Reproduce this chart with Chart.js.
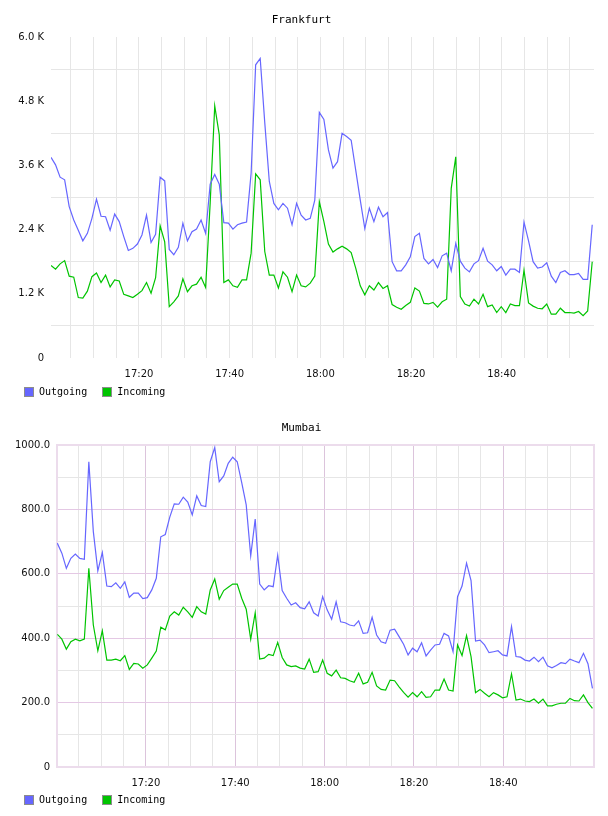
<!DOCTYPE html>
<html>
<head>
<meta charset="utf-8">
<script src="https://cdn.jsdelivr.net/npm/chart.js@4/dist/chart.umd.min.js"></script>
<style>
  body { margin: 0; background: #fff; }
  .box { position: relative; width: 608px; height: 408px; }
  .legend { position: absolute; left: 24px; top: 386px; display: flex; font: 10px 'DejaVu Sans Mono'; line-height: 12px; color: #000; }
  .legend .item { display: flex; align-items: center; margin-right: 15px; }
  .legend .swatch { width: 10px; height: 10px; box-sizing: border-box; border: 1px solid #8c8c8c; margin-right: 5px; }
</style>
</head>
<body>
<div class="box"><canvas id="frankfurtChart"></canvas><div class="legend" id="frankfurtLegend"></div></div>
<div class="box"><canvas id="mumbaiChart"></canvas><div class="legend" id="mumbaiLegend"></div></div>
<script>
// x axis: minutes after 17:00
const gridMinutes = [5, 10, 15, 20, 25, 30, 35, 40, 45, 50, 55, 60, 65, 70, 75, 80, 85, 90, 95, 100, 105, 110, 115];
const labelMinutes = [20, 40, 60, 80, 100];

// y ticks
const frankfurtTicks = [0, 0.6, 1.2, 1.8, 2.4, 3.0, 3.6, 4.2, 4.8, 5.4, 6.0]; // K
const mumbaiTicks = [0, 100, 200, 300, 400, 500, 600, 700, 800, 900, 1000];

// one sample a minute
const frankfurtSampling = { first: 0.6, step: 1.003, min: 0.6, max: 120.35 };
const mumbaiSampling = { first: 0.18, step: 1.0065, min: 0.1, max: 120.3 };

// Frankfurt, K
const frankfurtOutgoing = [
  3.75, 3.61, 3.38, 3.33, 2.83, 2.58, 2.39, 2.19, 2.33, 2.61,
  2.97, 2.65, 2.64, 2.39, 2.69, 2.55, 2.27, 2.01, 2.05, 2.13,
  2.30, 2.67, 2.16, 2.31, 3.38, 3.31, 2.03, 1.93, 2.07, 2.52,
  2.19, 2.36, 2.41, 2.58, 2.33, 3.25, 3.43, 3.25, 2.53, 2.52,
  2.41, 2.49, 2.52, 2.54, 3.45, 5.48, 5.60, 4.40, 3.30, 2.89,
  2.77, 2.89, 2.80, 2.49, 2.89, 2.67, 2.58, 2.61, 2.95, 4.59,
  4.46, 3.89, 3.55, 3.67, 4.20, 4.14, 4.07, 3.51, 2.95, 2.42,
  2.80, 2.55, 2.82, 2.64, 2.72, 1.80, 1.63, 1.63, 1.74, 1.89,
  2.27, 2.33, 1.86, 1.76, 1.84, 1.69, 1.91, 1.96, 1.63, 2.14,
  1.81, 1.68, 1.61, 1.76, 1.82, 2.05, 1.81, 1.74, 1.63, 1.71,
  1.55, 1.66, 1.66, 1.60, 2.54, 2.19, 1.80, 1.68, 1.70, 1.78,
  1.53, 1.41, 1.60, 1.63, 1.56, 1.56, 1.58, 1.47, 1.47, 2.49
];
const frankfurtIncoming = [
  1.73, 1.66, 1.76, 1.82, 1.53, 1.51, 1.13, 1.12, 1.25, 1.52,
  1.59, 1.41, 1.55, 1.33, 1.46, 1.44, 1.19, 1.16, 1.13, 1.19,
  1.26, 1.41, 1.21, 1.50, 2.47, 2.17, 0.96, 1.05, 1.16, 1.48,
  1.24, 1.35, 1.38, 1.51, 1.32, 2.90, 4.71, 4.17, 1.41, 1.46,
  1.35, 1.32, 1.46, 1.46, 1.96, 3.44, 3.33, 1.99, 1.55, 1.55,
  1.31, 1.61, 1.51, 1.24, 1.55, 1.35, 1.33, 1.40, 1.53, 2.92,
  2.55, 2.13, 1.98, 2.04, 2.09, 2.04, 1.97, 1.68, 1.35, 1.18,
  1.35, 1.27, 1.41, 1.30, 1.35, 1.00, 0.95, 0.91, 0.98, 1.04,
  1.31, 1.25, 1.02, 1.01, 1.04, 0.95, 1.05, 1.10, 3.17, 3.76,
  1.15, 1.01, 0.97, 1.10, 1.01, 1.19, 0.96, 0.99, 0.85, 0.96,
  0.85, 1.01, 0.98, 0.98, 1.64, 1.03, 0.97, 0.93, 0.92, 1.01,
  0.82, 0.82, 0.93, 0.85, 0.85, 0.84, 0.87, 0.79, 0.88, 1.80
];

// Mumbai
const mumbaiOutgoing = [
  695, 664, 617, 648, 661, 648, 645, 948, 731, 609,
  666, 562, 560, 572, 555, 575, 527, 540, 540, 523,
  526, 550, 586, 715, 722, 776, 817, 816, 838, 823,
  783, 842, 812, 809, 948, 992, 886, 904, 943, 962,
  948, 883, 814, 656, 770, 568, 550, 563, 560, 658,
  548, 524, 503, 510, 495, 491, 513, 479, 469, 529,
  488, 459, 513, 451, 448, 441, 438, 454, 415, 417,
  465, 410, 389, 384, 425, 428, 405, 381, 348, 369,
  358, 386, 345, 363, 379, 381, 415, 407, 358, 529,
  562, 633, 579, 391, 394, 379, 355, 358, 361, 348,
  345, 436, 343, 341, 332, 329, 341, 327, 341, 314,
  308, 315, 324, 321, 335, 329, 324, 353, 321, 244
];
const mumbaiIncoming = [
  412, 397, 366, 389, 397, 392, 397, 617, 441, 361,
  423, 332, 332, 335, 330, 346, 303, 322, 320, 307,
  317, 338, 360, 434, 426, 469, 482, 472, 496, 482,
  465, 498, 482, 475, 550, 584, 521, 548, 558, 568,
  568, 524, 490, 397, 479, 335, 338, 350, 346, 387,
  340, 317, 312, 314, 307, 304, 335, 294, 296, 332,
  291, 283, 301, 277, 275, 268, 263, 291, 258, 263,
  294, 252, 241, 239, 270, 268, 249, 232, 217, 231,
  218, 234, 216, 218, 239, 239, 273, 239, 236, 379,
  346, 408, 343, 231, 241, 229, 218, 231, 224, 215,
  218, 289, 208, 211, 205, 203, 211, 198, 211, 190,
  190, 195, 198, 198, 213, 206, 205, 224, 200, 182
];

const OUT_COLOR = '#6666ff';
const IN_COLOR = '#00c400';
const GRID_GREY = '#e6e6e6';
const GRID_PINK = '#e4c8e4';
const TEXT_FONT = { family: 'DejaVu Sans', size: 10 };
const MONO = 'DejaVu Sans Mono';

function timePoints(values, s) {
    return values.map((v, i) => ({ x: s.first + i * s.step, y: v }));
}

function minuteLabel(m) {
    const h = 17 + Math.floor(m / 60);
    return h + ':' + String(m % 60).padStart(2, '0');
}

// recuadro del gráfico de Mumbai
const framePlugin = {
    id: 'frame',
    beforeDatasetsDraw(chart) {
        const { ctx, chartArea: a } = chart;
        ctx.save();
        ctx.strokeStyle = '#ecdcec';
        ctx.lineWidth = 2;
        ctx.strokeRect(a.left, a.top, a.right - a.left, a.bottom - a.top);
        ctx.restore();
    }
};

// leyenda en HTML debajo del eje x
function fillLegend(chart, legendId) {
    const el = document.getElementById(legendId);
    chart.data.datasets.forEach(ds => {
        const item = document.createElement('span');
        item.className = 'item';
        const sw = document.createElement('span');
        sw.className = 'swatch';
        sw.style.background = ds.borderColor;
        item.appendChild(sw);
        item.appendChild(document.createTextNode(ds.label));
        el.appendChild(item);
    });
}

function makeChart(id, cfg) {
    const ctx = document.getElementById(id);
    return new Chart(ctx, {
        type: 'line',
        data: {
            datasets: [
                {
                    label: 'Outgoing',
                    data: timePoints(cfg.outgoing, cfg.sampling),
                    borderColor: OUT_COLOR,
                    backgroundColor: OUT_COLOR,
                    borderWidth: 1.2,
                    pointRadius: 0,
                    tension: 0
                },
                {
                    label: 'Incoming',
                    data: timePoints(cfg.incoming, cfg.sampling),
                    borderColor: IN_COLOR,
                    backgroundColor: IN_COLOR,
                    borderWidth: 1.2,
                    pointRadius: 0,
                    tension: 0
                }
            ]
        },
        plugins: cfg.framed ? [framePlugin] : [],
        options: {
            responsive: true,
            maintainAspectRatio: false,
            animation: false,
            layout: { padding: { left: 9, right: 14, top: 0, bottom: cfg.bottomPad } },
            plugins: {
                tooltip: { enabled: false },
                legend: { display: false },
                title: {
                    display: true,
                    text: cfg.title,
                    color: '#000',
                    font: { family: MONO, size: 11, weight: 'normal' },
                    padding: { top: 14, bottom: 9.8 }
                }
            },
            scales: {
                x: {
                    type: 'linear',
                    min: cfg.sampling.min,
                    max: cfg.sampling.max,
                    afterBuildTicks: s => { s.ticks = gridMinutes.map(v => ({ value: v })); },
                    afterFit: s => { s.height = 24; },
                    border: { display: false },
                    grid: {
                        drawTicks: false,
                        color: c => (cfg.framed && labelMinutes.includes(c.tick.value)) ? '#dcc4dc' : GRID_GREY
                    },
                    ticks: {
                        autoSkip: false,
                        maxRotation: 0,
                        padding: 10,
                        color: '#111',
                        font: TEXT_FONT,
                        callback: v => labelMinutes.includes(v) ? minuteLabel(v) : ''
                    }
                },
                y: {
                    min: cfg.yTicks[0],
                    max: cfg.yTicks[cfg.yTicks.length - 1],
                    afterBuildTicks: s => { s.ticks = cfg.yTicks.map(v => ({ value: v })); },
                    afterFit: s => { s.width = cfg.yWidth; },
                    border: { display: false },
                    grid: { drawTicks: false, color: cfg.yGrid },
                    ticks: {
                        autoSkip: false,
                        padding: 7,
                        color: '#111',
                        font: TEXT_FONT,
                        callback: cfg.yLabel
                    }
                }
            }
        }
    });
}

const frankfurt = makeChart('frankfurtChart', {
    title: 'Frankfurt',
    outgoing: frankfurtOutgoing,
    incoming: frankfurtIncoming,
    sampling: frankfurtSampling,
    yTicks: frankfurtTicks,
    yWidth: 42,
    bottomPad: 26,
    framed: false,
    yGrid: c => (Math.round(c.tick.value / 0.6) % 2) ? GRID_GREY : 'rgba(0,0,0,0)',
    yLabel: v => {
        if (Math.round(v / 0.6) % 2) return '';
        return v === 0 ? '0' : v.toFixed(1) + ' K';
    }
});
fillLegend(frankfurt, 'frankfurtLegend');

const mumbai = makeChart('mumbaiChart', {
    title: 'Mumbai',
    outgoing: mumbaiOutgoing,
    incoming: mumbaiIncoming,
    sampling: mumbaiSampling,
    yTicks: mumbaiTicks,
    yWidth: 48,
    bottomPad: 25,
    framed: true,
    yGrid: c => (c.tick.value % 200 === 0) ? GRID_PINK : GRID_GREY,
    yLabel: v => {
        if (v % 200 !== 0) return '';
        return v === 0 ? '0' : v.toFixed(1);
    }
});
fillLegend(mumbai, 'mumbaiLegend');
</script>
</body>
</html>
